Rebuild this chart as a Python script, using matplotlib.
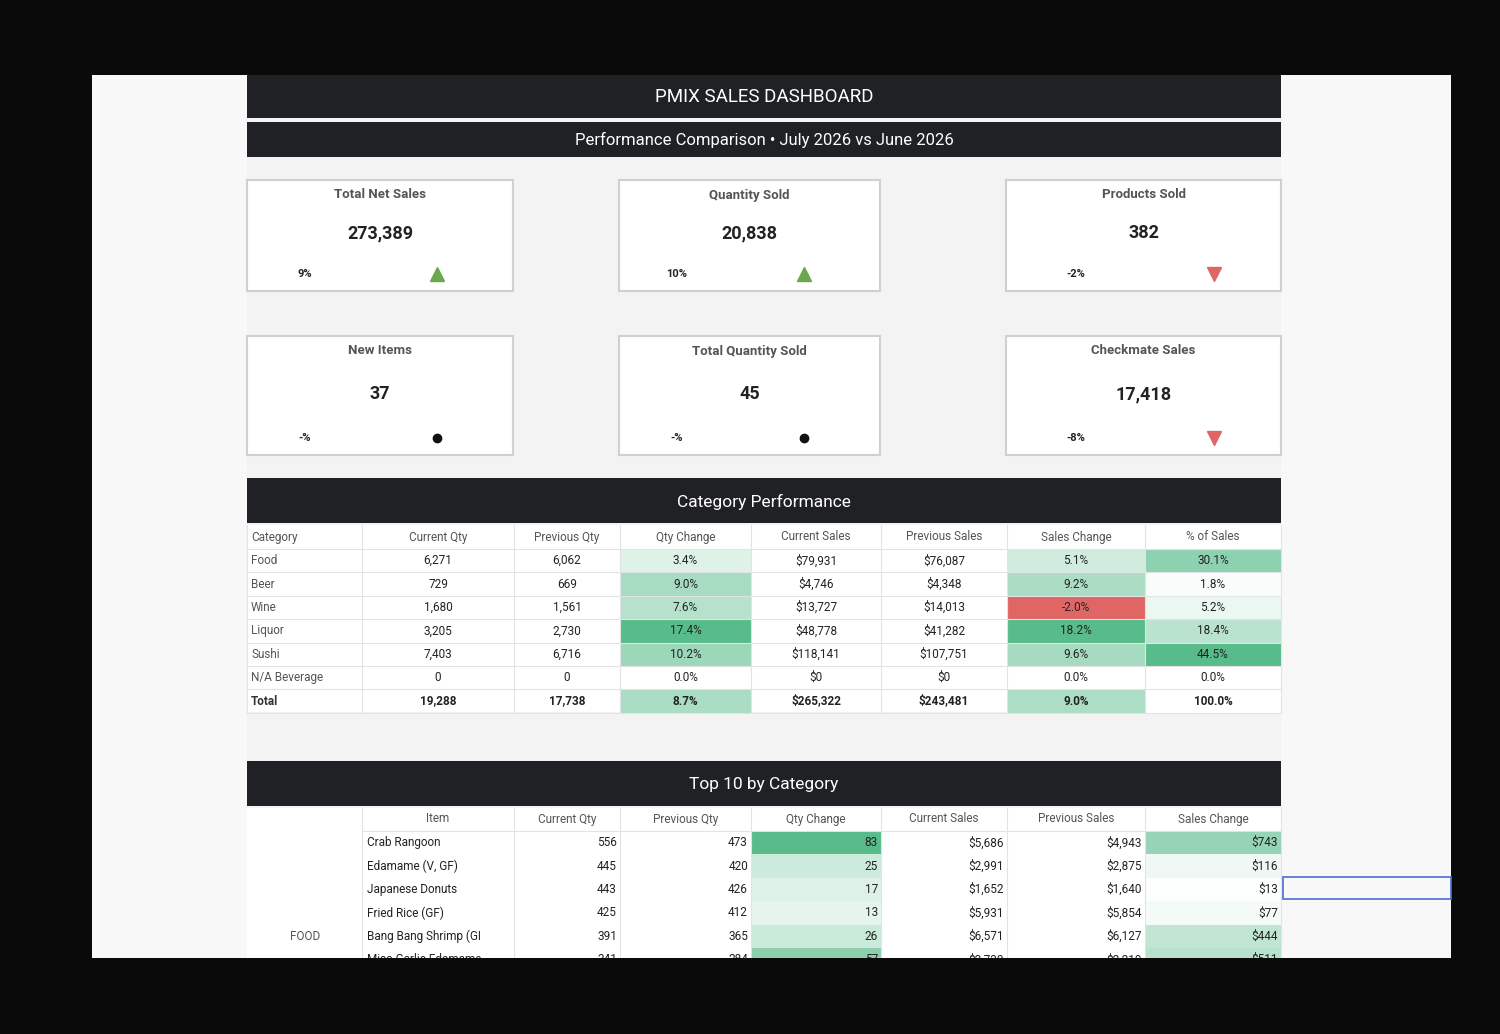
import matplotlib
matplotlib.use("Agg")
import matplotlib.pyplot as plt
from matplotlib.patches import Rectangle
import numpy as np

title = "PMIX SALES DASHBOARD"
subtitle = "Performance Comparison • July 2026 vs June 2026"
kpi_titles = ["Total Net Sales", "Quantity Sold", "Products Sold", "New Items", "Total Quantity Sold", "Checkmate Sales"]
kpi_values = ["273,389", "20,838", "382", "37", "45", "17,418"]
kpi_changes = ["9%", "10%", "-2%", "-%", "-%", "-8%"]
kpi_trend = ["up", "up", "down", "flat", "flat", "down"]

cat_cols = ["Category", "Current Qty", "Previous Qty", "Qty Change", "Current Sales", "Previous Sales", "Sales Change", "% of Sales"]
categories = ["Food", "Beer", "Wine", "Liquor", "Sushi", "N/A Beverage", "Total"]
cur_qty = [6271, 729, 1680, 3205, 7403, 0, 19288]
prev_qty = [6062, 669, 1561, 2730, 6716, 0, 17738]
qty_chg = [3.4, 9.0, 7.6, 17.4, 10.2, 0.0, 8.7]
cur_sales = [79931, 4746, 13727, 48778, 118141, 0, 265322]
prev_sales = [76087, 4348, 14013, 41282, 107751, 0, 243481]
sales_chg = [5.1, 9.2, -2.0, 18.2, 9.6, 0.0, 9.0]
pct_sales = [30.1, 1.8, 5.2, 18.4, 44.5, 0.0, 100.0]

top_cols = ["Item", "Current Qty", "Previous Qty", "Qty Change", "Current Sales", "Previous Sales", "Sales Change"]
top_items = ["Crab Rangoon", "Edamame (V, GF)", "Japanese Donuts", "Fried Rice (GF)", "Bang Bang Shrimp (GI", "Miso Garlic Edamame"]
top_cur_qty = [556, 445, 443, 425, 391, 341]
top_prev_qty = [473, 420, 426, 412, 365, 284]
top_qty_chg = [83, 25, 17, 13, 26, 57]
top_cur_sales = [5686, 2991, 1652, 5931, 6571, 2730]
top_prev_sales = [4943, 2875, 1640, 5854, 6127, 2219]
top_sales_chg = [743, 116, 13, 77, 444, 511]

fig = plt.figure(figsize=(15, 10.34), dpi=100)
fig.patch.set_facecolor("#000000")
ax = fig.add_axes([0, 0, 1, 1])
ax.set_xlim(0, 1500); ax.set_ylim(1034, 0); ax.axis("off")
F = "Roboto"

def rect(x0, y0, x1, y1, fc, ec="none", lw=0, z=1):
    ax.add_patch(Rectangle((x0, y0), x1 - x0, y1 - y0, facecolor=fc, edgecolor=ec, linewidth=lw, zorder=z))

def txt(x, y, s, size=11, color="#333333", ha="center", weight="normal", z=5):
    ax.text(x, y, s, fontsize=size, color=color, ha=ha, va="center", fontweight=weight, family=F, zorder=z)

rect(0, 0, 1500, 1034, "#0a0a0a", z=0)
rect(92, 75, 1451, 958, "#f3f3f3")
rect(92, 75, 247, 958, "#f8f8f8")
rect(1281, 75, 1451, 958, "#f8f8f8")

rect(247, 75, 1281, 118, "#202124", z=2)
txt(764, 97, title, 13.5, "white")
rect(247, 122, 1281, 157, "#202124", z=2)
txt(764, 140, subtitle, 12, "white")

cards = [(247, 513, 180, 291), (619, 880, 180, 291), (1006, 1281, 180, 291),
         (247, 513, 336, 455), (619, 880, 336, 455), (1006, 1281, 336, 455)]
for i, (x0, x1, y0, y1) in enumerate(cards):
    rect(x0, y0, x1, y1, "white", "#d0d0d0", 1.5, z=2)
    cx = (x0 + x1) / 2
    txt(cx, y0 + 15, kpi_titles[i], 9.5, "#555555", weight="bold")
    vy = y0 + 53 if i < 3 else y0 + 58
    txt(cx, vy, kpi_values[i], 13, "#222222", weight="bold")
    cy = y0 + 94 if i < 3 else y0 + 102
    txt(x0 + 58 if i != 2 and i != 5 else x0 + 70, cy, kpi_changes[i], 8, "#222222", weight="bold")
    mx = x1 - 76 if i not in (2, 5) else x1 - 67
    if kpi_trend[i] == "up":
        ax.plot(mx, cy, marker="^", color="#6aa84f", markersize=10, zorder=5)
    elif kpi_trend[i] == "down":
        ax.plot(mx, cy, marker="v", color="#e06666", markersize=10, zorder=5)
    else:
        ax.plot(mx, cy, marker="o", color="#111111", markersize=6, zorder=5)

def green(v, vmax):
    if v < 0:
        return "#e06666"
    t = min(v / vmax, 1.0)
    w = np.array([1, 1, 1]); g = np.array([0x57, 0xbb, 0x8a]) / 255
    return tuple(w + (g - w) * t)

# Category table
rect(247, 478, 1281, 523, "#202124", z=2)
txt(764, 502, "Category Performance", 12.5, "white")
xs = [247, 362, 514, 620, 751, 881, 1007, 1145, 1281]
rect(247, 525, 1281, 712, "white", z=2)
row_h = 23.4
y_top = 525
hdr_y = 537
for j, c in enumerate(cat_cols):
    if j == 0:
        txt(251, hdr_y, c, 8.5, "#555555", ha="left")
    else:
        txt((xs[j] + xs[j + 1]) / 2, hdr_y, c, 8.5, "#555555")
for i, cat in enumerate(categories):
    y0 = 549 + i * row_h
    yc = y0 + row_h / 2
    bold = "bold" if cat == "Total" else "normal"
    cells = [f"{cur_qty[i]:,}", f"{prev_qty[i]:,}", f"{qty_chg[i]:.1f}%", f"${cur_sales[i]:,}",
             f"${prev_sales[i]:,}", f"{sales_chg[i]:.1f}%", f"{pct_sales[i]:.1f}%"]
    fills = {2: green(qty_chg[i], 17.4), 5: green(sales_chg[i], 18.2),
             6: green(pct_sales[i], 44.5) if cat != "Total" else "white"}
    for k, col in fills.items():
        rect(xs[k + 1], y0, xs[k + 2], y0 + row_h, col, z=3)
    txt(251, yc, cat, 8.5, "#555555" if cat != "Total" else "#333333", ha="left", weight=bold)
    for k, s in enumerate(cells):
        txt((xs[k + 1] + xs[k + 2]) / 2, yc, s, 8.5, "#222222", weight=bold)
for i in range(8):
    ax.plot([247, 1281], [549 + i * row_h] * 2, color="#e3e3e3", lw=0.8, zorder=4)
for x in xs:
    ax.plot([x, x], [525, 712], color="#e3e3e3", lw=0.8, zorder=4)

# Top 10
rect(247, 761, 1281, 806, "#202124", z=2)
txt(764, 784, "Top 10 by Category", 12.5, "white")
rect(247, 808, 1281, 960, "white", z=2)
for j, c in enumerate(top_cols):
    txt((xs[j + 1] + xs[j + 2]) / 2, 819, c, 8.5, "#555555")
for i, it in enumerate(top_items):
    y0 = 831 + i * row_h
    yc = y0 + row_h / 2
    rect(xs[4], y0, xs[5], y0 + row_h, green(top_qty_chg[i], 83), z=3)
    rect(xs[7], y0, xs[8], y0 + row_h, green(top_sales_chg[i], 743 * 1.6), z=3)
    txt(367, yc, it, 8.5, "#222222", ha="left")
    vals = [f"{top_cur_qty[i]:,}", f"{top_prev_qty[i]:,}", f"{top_qty_chg[i]}", f"${top_cur_sales[i]:,}",
            f"${top_prev_sales[i]:,}", f"${top_sales_chg[i]:,}"]
    for k, s in enumerate(vals):
        txt(xs[k + 3] - 3, yc, s, 8.5, "#222222", ha="right")
rect(362, 808, 514, 960, "none", z=1)
for x in xs[1:]:
    ax.plot([x, x], [808, 960], color="#e3e3e3", lw=0.8, zorder=4)
ax.plot([362, 1281], [831, 831], color="#e3e3e3", lw=0.8, zorder=4)
txt(305, 936, "FOOD", 8.5, "#555555")
rect(1283, 877, 1451, 899, "none", "#4a6fd6", 1.2, z=4)

rect(0, 958, 1500, 1034, "#0a0a0a", z=10)

fig.savefig("out.png", dpi=100, facecolor=fig.get_facecolor())
